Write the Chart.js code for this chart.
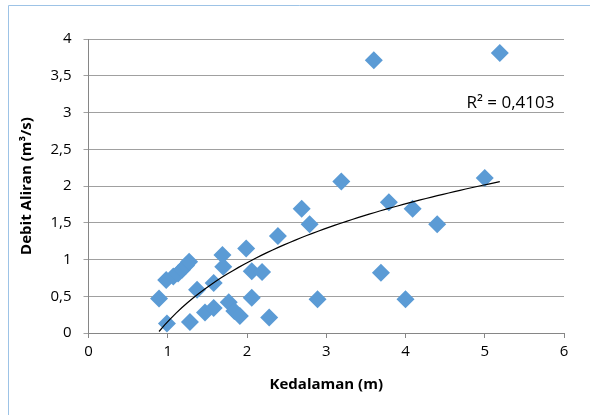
<!DOCTYPE html>
<html>
<head>
<meta charset="utf-8">
<script src="https://cdn.jsdelivr.net/npm/chart.js@4.4.1/dist/chart.umd.min.js"></script>
<style>
  body { margin: 0; background: #fff; }
</style>
</head>
<body>
<canvas id="chart" width="591" height="415"></canvas>
<script>
// Kedalaman (m) vs Debit Aliran (m3/s)
const kedalaman = [0.89, 0.99, 0.98, 1.07, 1.13, 1.18, 1.23, 1.27, 1.28, 1.37, 1.47, 1.58,
  1.58, 1.69, 1.70, 1.77, 1.84, 1.91, 1.99, 2.06, 2.19, 2.06, 2.28, 2.39, 2.69, 2.79,
  2.89, 3.19, 3.60, 3.69, 3.79, 4.00, 4.09, 4.40, 5.00, 5.19];
const debit = [0.47, 0.13, 0.72, 0.77, 0.81, 0.86, 0.92, 0.97, 0.15, 0.59, 0.28, 0.34,
  0.68, 1.06, 0.90, 0.42, 0.30, 0.23, 1.15, 0.84, 0.83, 0.48, 0.21, 1.32, 1.69, 1.48,
  0.46, 2.06, 3.71, 0.82, 1.78, 0.46, 1.69, 1.48, 2.11, 3.81];

const xTicks = [0, 1, 2, 3, 4, 5, 6];
const yTicks = [0, 0.5, 1, 1.5, 2, 2.5, 3, 3.5, 4];
const r2Label = "R² = 0,4103";

// log trendline y = a*ln(x) + b, coefficients
const trendA = 1.156;
const trendB = 0.155;

const points = kedalaman.map((x, i) => ({ x: x, y: debit[i] }));

const xMin = Math.min(...kedalaman), xMax = Math.max(...kedalaman);
const trend = [];
for (let k = 0; k <= 60; k++) {
  const x = xMin + (xMax - xMin) * k / 60;
  trend.push({ x: x, y: trendA * Math.log(x) + trendB });
}

const fmt = (v) => String(v).replace(".", ",");

const frame = {
  id: "frame",
  beforeDraw(chart) {
    const ctx = chart.ctx;
    ctx.save();
    ctx.strokeStyle = "#9dc3e6";
    ctx.lineWidth = 1;
    ctx.beginPath();
    ctx.moveTo(8.5, 415);
    ctx.lineTo(8.5, 5.5);
    ctx.lineTo(590, 5.5);
    ctx.stroke();
    ctx.restore();
  },
  afterDatasetsDraw(chart) {
    const ctx = chart.ctx;
    const xs = chart.scales.x, ys = chart.scales.y;
    ctx.save();
    ctx.fillStyle = "#000";
    ctx.font = "17px 'Open Sans'";
    ctx.textAlign = "right";
    ctx.textBaseline = "middle";
    ctx.fillText(r2Label, xs.getPixelForValue(5.88), ys.getPixelForValue(3.13));
    ctx.restore();
  }
};

new Chart(document.getElementById("chart"), {
  type: "scatter",
  data: {
    datasets: [
      {
        data: trend,
        showLine: true,
        pointRadius: 0,
        borderColor: "#000",
        borderWidth: 1.2,
        tension: 0
      },
      {
        data: points,
        pointStyle: "rectRot",
        pointRadius: 9,
        pointBorderWidth: 0,
        backgroundColor: "#5b9bd5",
        borderColor: "#5b9bd5"
      }
    ]
  },
  options: {
    responsive: false,
    animation: false,
    layout: { padding: { left: 9, top: 39, right: 27, bottom: 0 } },
    plugins: { legend: { display: false }, tooltip: { enabled: false } },
    scales: {
      x: {
        type: "linear",
        min: 0,
        max: 6,
        afterBuildTicks: (s) => { s.ticks = xTicks.map(v => ({ value: v })); },
        afterFit: (s) => { s.height = 82; },
        grid: { display: true, drawOnChartArea: false, tickLength: 5, color: "#868686" },
        border: { color: "#868686", width: 1 },
        ticks: { color: "#000", font: { family: "Open Sans", size: 15 }, padding: 5, callback: fmt },
        title: {
          display: true,
          text: "Kedalaman (m)",
          color: "#000",
          font: { family: "Open Sans", size: 15, weight: "bold" },
          padding: { top: 0, bottom: 21 }
        }
      },
      y: {
        type: "linear",
        min: 0,
        max: 4,
        afterBuildTicks: (s) => { s.ticks = yTicks.map(v => ({ value: v })); },
        afterFit: (s) => { s.width = 79.5; },
        grid: { color: "#a0a0a0", tickLength: 5 },
        border: { color: "#868686", width: 1 },
        ticks: { color: "#000", font: { family: "Open Sans", size: 15 }, padding: 12, callback: fmt },
        title: {
          display: true,
          text: "Debit Aliran (m³/s)",
          color: "#000",
          font: { family: "Open Sans", size: 15, weight: "bold" },
          padding: { top: 9, bottom: 0 }
        }
      }
    }
  },
  plugins: [frame]
});
</script>
</body>
</html>
